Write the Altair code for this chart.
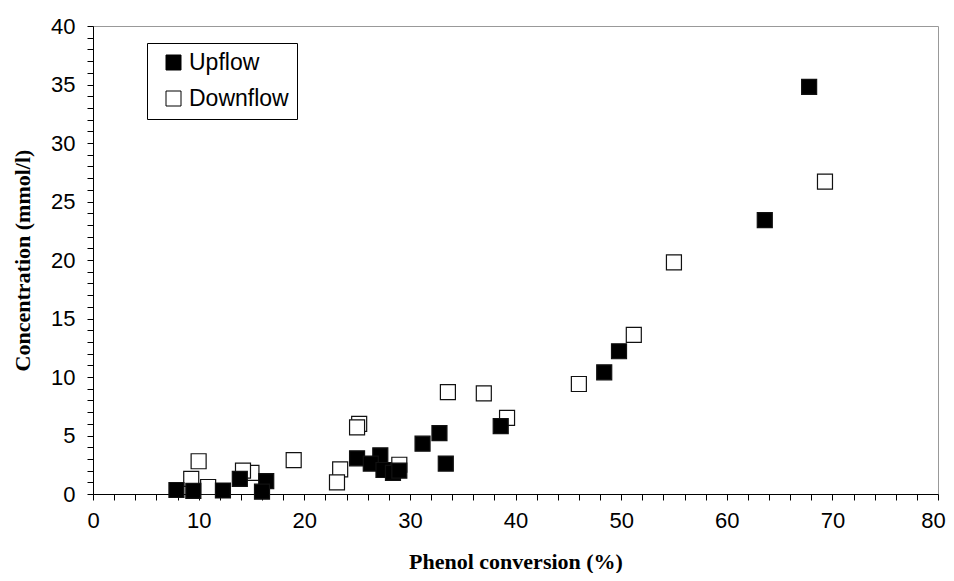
import altair as alt
import pandas as pd

up_x = [67.8, 63.6, 49.8, 48.4, 38.6, 32.8, 31.2, 33.4, 25.0, 27.2, 26.3, 27.5, 28.4, 29.0, 13.9, 16.4, 12.3, 9.5, 7.9, 16.0]
up_y = [34.8, 23.4, 12.2, 10.4, 5.8, 5.2, 4.3, 2.6, 3.05, 3.3, 2.6, 2.05, 1.8, 2.0, 1.3, 1.1, 0.3, 0.26, 0.34, 0.2]

down_x = [69.3, 55.0, 51.2, 46.0, 39.2, 37.0, 33.6, 25.2, 25.0, 29.0, 23.4, 23.1, 19.0, 15.0, 14.2, 10.0, 9.3, 10.9]
down_y = [26.7, 19.8, 13.6, 9.4, 6.5, 8.6, 8.7, 6.0, 5.7, 2.5, 2.1, 1.0, 2.9, 1.8, 2.0, 2.8, 1.3, 0.6]

series = ["Upflow", "Downflow"]
x_ticks = list(range(0, 81, 2))
y_ticks = list(range(0, 41, 1))

df = pd.concat([
    pd.DataFrame({"conv": down_x, "conc": down_y, "series": "Downflow"}),
    pd.DataFrame({"conv": up_x, "conc": up_y, "series": "Upflow"}),
], ignore_index=True)

chart = alt.Chart(df).mark_square(size=225, stroke="#111", strokeWidth=1.2, opacity=1).encode(
    x=alt.X("conv:Q", scale=alt.Scale(domain=[0, 80], nice=False),
            axis=alt.Axis(title="Phenol conversion (%)", values=x_ticks,
                          labelExpr="datum.value % 10 === 0 ? datum.label : ''",
                          labelOverlap=False, labelFlush=False, grid=False,
                          labelOffset={"condition": {"test": "datum.value === 80", "value": -5}, "value": 0},
                          tickSize=6, labelPadding=10,
                          titleY=74, titleBaseline="alphabetic")),
    y=alt.Y("conc:Q", scale=alt.Scale(domain=[0, 40], nice=False),
            axis=alt.Axis(title="Concentration (mmol/l)", values=y_ticks,
                          labelExpr="datum.value % 5 === 0 ? datum.label : ''",
                          labelOverlap=False, labelFlush=False, grid=False,
                          tickSize=6, labelPadding=12,
                          titleX=-71, titleBaseline="middle")),
    fill=alt.Fill("series:N", scale=alt.Scale(domain=series, range=["black", "white"]),
                  legend=alt.Legend(title=None, orient="none", legendX=54, legendY=17,
                                    symbolType="square", symbolSize=225,
                                    symbolStrokeColor="black", symbolStrokeWidth=1,
                                    symbolOffset=7,
                                    labelFontSize=23, labelFont="Liberation Sans",
                                    labelOffset=4, rowPadding=12, padding=8,
                                    strokeColor="black", fillColor="white",
                                    labelLimit=300)),
).properties(
    width=845, height=468,
    autosize=alt.AutoSizeParams(type="none"),
    padding={"left": 85, "top": 18, "right": 8, "bottom": 79},
).configure_view(
    stroke="#999", strokeWidth=1
).configure_axis(
    domainColor="black", tickColor="black", labelColor="black",
    labelFont="Liberation Sans", labelFontSize=22,
    titleFont="Liberation Serif", titleFontSize=22, titleFontWeight="bold",
    titleColor="black"
)

chart.save("out.html", embed_options={"renderer": "svg", "actions": False})
